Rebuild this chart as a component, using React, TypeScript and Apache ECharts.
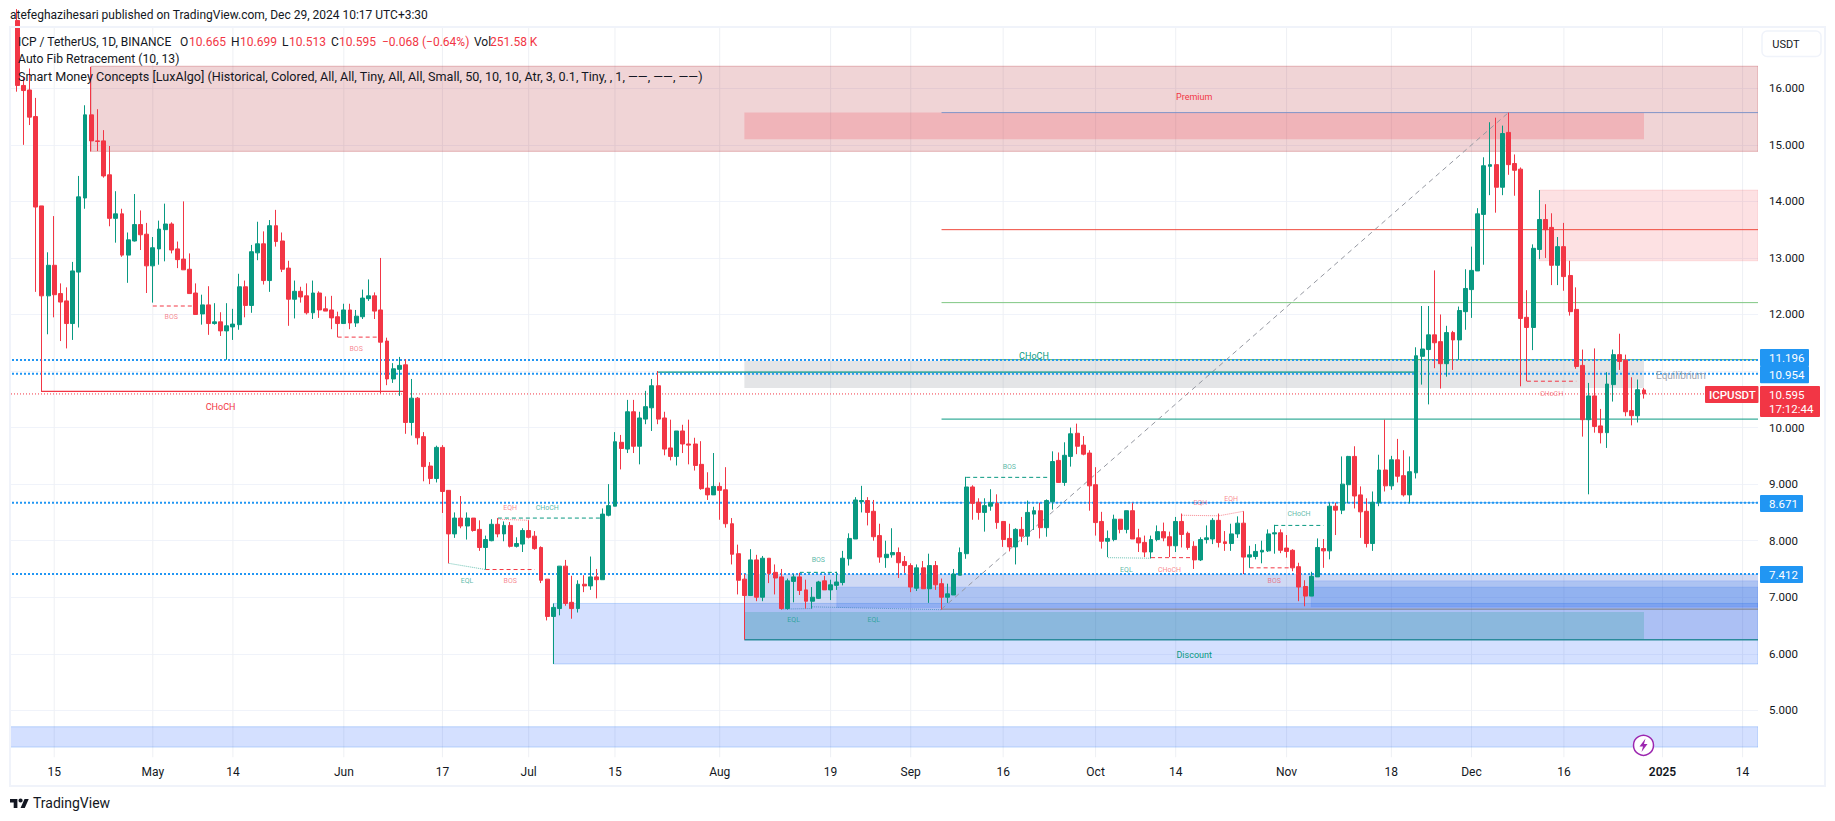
import React, { useEffect, useRef } from "react";
import * as echarts from "echarts";

const FONT = "Roboto, sans-serif";
const UP = "#089981";
const DOWN = "#f23645";

// rows: [open, close, low, high]
const april = [
  [17.2,16.05,15.94,17.4],[16.05,15.96,15.0,16.2],[15.97,15.49,15.35,16.35],[15.5,13.9,12.4,15.83],
  [13.92,12.33,10.63,13.92],[12.33,12.87,11.65,13.1],[12.87,12.35,11.95,13.74],[12.37,12.22,11.53,12.55],
  [12.24,11.84,11.4,12.48],[11.84,12.77,11.55,12.93],[12.75,14.08,11.77,14.45],[14.06,15.53,13.87,15.7],
  [15.53,15.07,14.88,16.38],[15.07,15.06,14.89,15.63],[15.07,14.45,14.42,15.26],[14.47,13.7,13.56,14.98],
  [13.7,13.78,13.27,14.18],[13.78,13.05,13.02,13.87],[13.05,13.32,12.56,13.45],[13.3,13.59,13.29,14.13],
  [13.59,13.41,13.14,13.84],[13.42,12.86,12.38,13.62],
];
const may = [
  [12.86,13.18,12.21,13.37],[13.16,13.51,12.88,13.66],[13.5,13.6,12.94,13.96],[13.6,13.14,13.08,13.63],
  [13.16,12.97,12.82,13.29],[12.98,12.79,12.79,14.0],[12.8,12.37,12.37,13.08],[12.38,12.0,12.0,12.55],
  [12.01,12.17,11.82,12.35],[12.17,11.84,11.64,12.5],[11.84,11.87,11.82,12.2],[11.87,11.71,11.62,12.04],
  [11.71,11.8,11.2,12.2],[11.78,11.83,11.55,12.1],[11.82,12.49,11.73,12.72],[12.49,12.16,11.95,12.6],
  [12.16,13.11,12.03,13.23],[13.09,13.25,12.96,13.64],[13.25,12.6,12.53,13.47],[12.6,13.57,12.4,13.67],
  [13.57,13.29,13.2,13.85],[13.3,12.8,12.75,13.45],[12.82,12.27,11.8,12.95],[12.27,12.41,11.93,12.6],
  [12.41,12.31,12.21,12.49],[12.33,12.03,12.0,12.55],[12.03,12.38,11.92,12.6],[12.38,12.08,11.94,12.41],
  [12.1,12.06,12.06,12.32],[12.08,11.94,11.74,12.33],[11.96,11.84,11.6,12.05],
];
const june = [
  [11.84,12.08,11.84,12.19],[12.08,11.85,11.74,12.19],[11.85,11.97,11.78,12.08],[11.96,12.29,11.92,12.44],
  [12.28,12.33,12.24,12.62],[12.33,12.06,11.92,12.39],[12.08,11.51,10.6,13.0],[11.53,10.86,10.75,11.59],
  [10.86,11.04,10.79,11.14],[11.03,11.1,10.56,11.25],[11.11,10.09,9.89,11.21],[10.09,10.52,9.86,10.86],
  [10.52,9.82,9.7,10.54],[9.84,9.31,9.05,9.92],[9.32,9.1,9.0,9.39],[9.1,9.65,9.03,9.68],
  [9.65,8.87,8.49,9.69],[8.89,8.12,7.6,8.89],[8.12,8.4,8.05,8.5],[8.4,8.26,8.22,8.79],
  [8.26,8.4,8.02,8.5],[8.4,8.18,8.16,8.4],[8.2,7.88,7.82,8.36],[7.88,8.02,7.49,8.09],
  [8.0,8.29,7.99,8.38],[8.29,8.12,8.06,8.4],[8.12,8.27,7.99,8.34],[8.27,7.9,7.88,8.33],
  [7.9,7.95,7.88,8.06],[7.94,8.18,7.8,8.22],
];
const july = [
  [8.18,8.06,8.04,8.36],[8.08,7.86,7.84,8.17],[7.88,7.3,7.25,7.9],[7.32,6.66,6.59,7.32],
  [6.66,6.82,5.82,6.89],[6.8,7.55,6.68,7.55],[7.55,6.89,6.85,7.66],[6.91,6.8,6.62,7.38],
  [6.8,7.23,6.73,7.3],[7.23,7.2,7.09,7.39],[7.2,7.36,7.13,7.72],[7.36,7.31,6.98,7.5],
  [7.31,8.47,7.31,8.57],[8.45,8.62,8.43,9.0],[8.61,9.75,8.61,9.92],[9.74,9.63,9.26,9.87],
  [9.62,10.28,9.55,10.49],[10.28,9.67,9.55,10.49],[9.67,10.17,9.35,10.28],[10.15,10.37,10.06,10.65],
  [10.35,10.74,9.94,10.86],[10.74,10.15,10.06,11.0],[10.17,9.62,9.51,10.28],[9.64,9.49,9.42,10.14],
  [9.49,9.94,9.33,9.94],[9.94,9.71,9.55,10.05],[9.71,9.69,9.35,10.14],[9.71,9.33,9.24,9.82],
  [9.35,8.92,8.9,9.76],[8.93,8.81,8.72,9.21],[8.81,8.96,8.81,9.55],
];
const august = [
  [8.96,8.89,8.37,9.03],[8.9,8.3,8.23,9.3],[8.3,7.76,7.58,8.4],[7.77,7.3,7.05,7.93],
  [7.32,7.03,6.25,7.41],[7.03,7.66,7.03,7.85],[7.66,7.0,6.93,7.75],[7.0,7.69,6.93,7.73],
  [7.69,7.42,7.25,7.69],[7.44,7.34,7.05,7.58],[7.36,6.8,6.78,7.5],[6.8,7.29,6.78,7.33],
  [7.28,7.36,6.91,7.41],[7.36,7.12,7.04,7.43],[7.13,6.93,6.8,7.31],[6.93,7.0,6.8,7.18],
  [6.98,7.27,6.97,7.29],[7.29,7.13,7.13,7.38],[7.13,7.22,6.95,7.31],[7.21,7.27,7.13,7.45],
  [7.26,7.69,7.21,7.82],[7.68,8.04,7.56,8.13],[8.03,8.72,8.03,8.77],[8.69,8.71,8.5,8.97],
  [8.71,8.5,8.27,8.77],[8.52,8.07,8.0,8.72],[8.09,7.71,7.61,8.3],[7.7,7.76,7.52,8.0],
  [7.75,7.79,7.7,8.22],[7.79,7.61,7.34,7.88],[7.63,7.56,7.43,7.73],
];
const september = [
  [7.56,7.18,7.09,7.6],[7.16,7.52,7.11,7.58],[7.52,7.15,7.15,7.64],[7.15,7.56,6.9,7.77],
  [7.56,7.22,7.13,7.64],[7.24,7.0,6.78,7.33],[7.0,7.06,6.9,7.24],[7.04,7.41,7.04,7.5],
  [7.39,7.79,7.39,7.88],[7.77,8.95,7.68,9.13],[8.95,8.66,8.37,8.98],[8.68,8.5,8.37,8.75],
  [8.5,8.62,8.16,8.75],[8.61,8.67,8.53,8.91],[8.66,8.32,8.21,8.82],[8.34,8.02,7.89,8.34],
  [8.04,7.89,7.81,8.3],[7.89,8.2,7.58,8.22],[8.2,8.08,7.98,8.42],[8.08,8.5,7.92,8.71],
  [8.47,8.53,8.19,8.6],[8.53,8.23,8.04,8.67],[8.23,8.71,8.07,8.73],[8.69,9.4,8.55,9.58],
  [9.42,9.03,9.03,9.56],[9.03,9.51,8.97,9.74],[9.49,9.89,9.31,10.0],[9.9,9.67,9.53,10.07],
  [9.69,9.53,9.51,9.85],[9.55,8.97,8.53,9.6],
];
const october = [
  [8.99,8.32,8.09,9.3],[8.34,7.99,7.86,8.51],[7.99,8.04,7.71,8.18],[8.02,8.38,7.99,8.46],
  [8.38,8.2,8.13,8.38],[8.2,8.53,8.13,8.53],[8.53,8.03,8.03,8.67],[8.05,7.96,7.8,8.21],
  [7.97,7.8,7.71,8.09],[7.8,8.02,7.69,8.09],[8.02,8.16,7.99,8.27],[8.16,8.05,7.99,8.32],
  [8.07,7.91,7.71,8.16],[7.91,8.34,7.8,8.42],[8.34,8.11,7.88,8.48],[8.13,7.88,7.84,8.16],
  [7.9,7.66,7.5,7.99],[7.66,8.02,7.64,8.06],[8.02,8.05,7.95,8.27],[8.03,8.36,7.94,8.4],
  [8.36,7.97,7.88,8.48],[7.98,7.95,7.82,8.17],[7.95,8.12,7.82,8.3],[8.12,8.31,8.05,8.43],
  [8.31,7.71,7.41,8.52],[7.71,7.75,7.52,7.91],[7.72,7.81,7.67,7.94],[7.8,7.83,7.6,8.0],
  [7.82,8.12,7.8,8.2],[8.12,8.14,7.77,8.28],[8.14,7.83,7.78,8.2],
];
const november = [
  [7.87,7.81,7.7,8.1],[7.83,7.52,7.46,7.85],[7.54,7.18,6.93,7.61],[7.19,7.02,6.84,7.3],
  [7.02,7.37,7.02,7.45],[7.36,7.88,7.36,8.04],[7.86,7.82,7.52,8.03],[7.82,8.61,7.67,8.67],
  [8.61,8.54,8.1,8.67],[8.54,9.0,8.47,9.49],[8.99,9.49,8.66,9.5],[9.49,8.79,8.57,9.67],
  [8.81,8.51,8.05,8.96],[8.52,7.95,7.88,8.75],[7.95,8.68,7.82,8.87],[8.67,9.25,8.61,9.52],
  [9.25,8.97,8.87,10.14],[8.97,9.43,8.9,9.5],[9.43,9.14,9.03,9.8],[9.15,8.81,8.78,9.6],
  [8.81,9.22,8.66,9.49],[9.2,11.27,9.1,11.42],[11.26,11.39,10.76,12.15],[11.38,11.64,10.41,12.15],
  [11.64,11.5,11.05,12.78],[11.52,11.13,10.69,12.0],[11.13,11.68,10.9,11.8],[11.68,11.55,11.02,11.71],
  [11.55,12.07,11.2,12.14],[12.05,12.46,11.73,12.8],
];
const december = [
  [12.44,12.78,11.94,13.2],[12.77,13.78,12.77,13.88],[13.77,14.63,12.88,14.78],[14.62,14.65,14.11,15.4],
  [14.65,14.25,13.8,15.48],[14.25,15.2,14.11,15.34],[15.22,14.65,14.47,15.57],[14.67,14.55,14.1,14.83],
  [14.57,11.93,10.73,14.6],[11.95,11.77,10.82,12.43],[11.77,13.17,11.37,13.24],[13.15,13.68,12.98,14.2],
  [13.68,13.5,13.0,13.95],[13.54,12.87,12.52,13.79],[12.87,13.2,12.52,13.37],[13.2,12.67,12.42,13.62],
  [12.69,12.05,11.98,12.95],[12.09,11.08,11.04,12.48],[11.1,10.14,9.84,11.38],[10.14,10.56,8.82,10.79],
  [10.56,10.02,9.91,11.4],[10.03,9.91,9.72,10.33],[9.91,10.77,9.64,10.98],[10.76,11.29,10.46,11.38],
  [11.29,11.17,11.02,11.66],[11.19,10.28,10.2,11.29],[10.3,10.21,10.04,10.89],[10.21,10.67,10.09,10.85],
  [10.665,10.595,10.513,10.699],
];

// 11.000 has a grid line, but its label sits under the price tags in the reference.
const priceGrid = [5, 6, 7, 8, 9, 10, 11, 12, 13, 14, 15, 16];
const priceLabels = [5, 6, 7, 8, 9, 10, 12, 13, 14, 15, 16];
const timeTicks: [string, string][] = [
  ["2024-04-15","15"],["2024-05-01","May"],["2024-05-14","14"],["2024-06-01","Jun"],["2024-06-17","17"],
  ["2024-07-01","Jul"],["2024-07-15","15"],["2024-08-01","Aug"],["2024-08-19","19"],["2024-09-01","Sep"],
  ["2024-09-16","16"],["2024-10-01","Oct"],["2024-10-14","14"],["2024-11-01","Nov"],["2024-11-18","18"],
  ["2024-12-01","Dec"],["2024-12-16","16"],["2025-01-01","2025"],["2025-01-14","14"],
];

const categories: string[] = [];
for (let i = 0; i < 284; i++) {
  categories.push(new Date(Date.UTC(2024, 3, 8 + i)).toISOString().slice(0, 10));
}
const ix = (d: string) => categories.indexOf(d);

// [from, to, top, bottom] — null means the edge of the plot
type Box = [string | null, string | null, number, number];
const premiumZone: Box[] = [["2024-04-21", null, 16.39, 14.885]];
const bearBlock: Box[] = [["2024-08-05", "2024-12-29", 15.57, 15.1]];
const supplyZone: Box[] = [["2024-12-12", null, 14.2, 12.95]];
const equilibriumZone: Box[] = [["2024-08-05", "2024-12-29", 11.18, 10.7]];
const discountZone: Box[] = [["2024-07-05", null, 6.89, 5.82]];
const lowerZone: Box[] = [[null, null, 4.71, 4.35]];
const wideBlock: Box[] = [["2024-08-05", null, 7.412, 6.25]];
const blueBlocks: Box[] = [
  ["2024-08-20", null, 7.18, 6.82],
  ["2024-11-05", null, 7.29, 6.83],
];
const bullBlock: Box[] = [["2024-08-05", "2024-12-29", 6.74, 6.25]];

// [from, price, to, price]
type Seg = [string | null, number, string | null, number];
const dottedBlue: Seg[] = [11.196, 10.954, 8.671, 7.412].map((p) => [null, p, null, p] as Seg);
const lastPrice: Seg[] = [[null, 10.595, null, 10.595]];
const fibBlueGrey: Seg[] = [["2024-09-06", 15.57, null, 15.57]];
const fibRed: Seg[] = [["2024-09-06", 13.5, null, 13.5]];
const fibLightGreen: Seg[] = [["2024-09-06", 12.21, null, 12.21]];
const fibGreen: Seg[] = [["2024-09-06", 11.2, null, 11.2]];
const fibTeal: Seg[] = [["2024-09-06", 10.15, null, 10.15]];
const fibBlue: Seg[] = [["2024-09-06", 8.671, null, 8.671]];
const fibGrey: Seg[] = [["2024-09-06", 6.79, null, 6.79]];
const fibBase: Seg[] = [["2024-08-05", 6.25, null, 6.25]];
const fibDiagonal: Seg[] = [["2024-09-06", 6.79, "2024-12-07", 15.57]];
const chochRed: Seg[] = [["2024-04-13", 10.64, "2024-06-11", 10.64]];
const chochTeal: Seg[] = [["2024-07-22", 10.98, "2024-11-22", 10.98]];
const dashedRed: Seg[] = [
  ["2024-05-01", 12.15, "2024-05-08", 12.15],
  ["2024-05-31", 11.6, "2024-06-07", 11.6],
  ["2024-06-24", 7.49, "2024-07-02", 7.49],
  ["2024-10-10", 7.7, "2024-10-17", 7.7],
  ["2024-10-26", 7.52, "2024-11-02", 7.52],
  ["2024-12-10", 10.82, "2024-12-18", 10.82],
];
const dashedTeal: Seg[] = [
  ["2024-06-26", 8.4, "2024-07-13", 8.4],
  ["2024-08-14", 7.44, "2024-08-20", 7.44],
  ["2024-09-10", 9.12, "2024-09-24", 9.12],
  ["2024-10-30", 8.27, "2024-11-07", 8.27],
];
const dottedRed: Seg[] = [
  ["2024-06-26", 8.38, "2024-07-01", 8.36],
  ["2024-10-15", 8.45, "2024-10-21", 8.44],
  ["2024-10-21", 8.44, "2024-10-25", 8.52],
];
const dottedTeal: Seg[] = [
  ["2024-06-18", 7.6, "2024-06-24", 7.49],
  ["2024-10-03", 7.7, "2024-10-10", 7.69],
];
const dottedSteel: Seg[] = [
  ["2024-08-11", 6.79, "2024-08-16", 6.8],
  ["2024-08-16", 6.83, "2024-09-06", 6.78],
];

// [date, price, text]
type Note = [string, number, string];
const bigRed: Note[] = [["2024-05-12", 10.37, "CHoCH"], ["2024-10-17", 15.85, "Premium"]];
const bigTeal: Note[] = [["2024-09-21", 11.26, "CHoCH"], ["2024-10-17", 5.98, "Discount"]];
const bigGrey: Note[] = [["2025-01-04", 10.92, "Equilibrium"]];
const tinyRed: Note[] = [
  ["2024-05-04", 11.96, "BOS"], ["2024-06-03", 11.39, "BOS"], ["2024-06-28", 7.29, "BOS"],
  ["2024-06-28", 8.57, "EQH"], ["2024-10-13", 7.49, "CHoCH"], ["2024-10-18", 8.66, "EQH"],
  ["2024-10-23", 8.74, "EQH"], ["2024-10-30", 7.29, "BOS"], ["2024-12-14", 10.6, "CHoCH"],
];
const tinyTeal: Note[] = [
  ["2024-06-21", 7.29, "EQL"], ["2024-07-04", 8.58, "CHoCH"], ["2024-08-17", 7.65, "BOS"],
  ["2024-08-13", 6.6, "EQL"], ["2024-08-26", 6.59, "EQL"], ["2024-09-17", 9.31, "BOS"],
  ["2024-10-06", 7.49, "EQL"], ["2024-11-03", 8.48, "CHoCH"],
];

const legendRows = {
  symbol: "ICP / TetherUS, 1D, BINANCE",
  fib: "Auto Fib Retracement (10, 13)",
  smc: "Smart Money Concepts [LuxAlgo] (Historical, Colored, All, All, Tiny, All, All, Small, 50, 10, 10, Atr, 3, 0.1, Tiny, , 1, ——, ——, ——)",
};

const edgeX = (d: string | null, api: any, params: any, side: "l" | "r") => {
  if (d === null) {
    const c = params.coordSys;
    return side === "l" ? c.x : c.x + c.width;
  }
  return api.coord([ix(d), 0])[0];
};

const boxSeries = (name: string, rows: Box[], style: any, z: number) => ({
  name,
  type: "custom",
  z,
  clip: true,
  silent: true,
  data: rows.map((r) => [ix(r[0] ?? categories[0]), r[2]]),
  renderItem: (params: any, api: any) => {
    const r = rows[params.dataIndex];
    const x1 = edgeX(r[0], api, params, "l");
    const x2 = edgeX(r[1], api, params, "r");
    const y1 = api.coord([0, r[2]])[1];
    const y2 = api.coord([0, r[3]])[1];
    return { type: "rect", shape: { x: x1, y: y1, width: x2 - x1, height: y2 - y1 }, style };
  },
});

const segSeries = (name: string, rows: Seg[], style: any, z: number) => ({
  name,
  type: "custom",
  z,
  clip: true,
  silent: true,
  data: rows.map((r) => [ix(r[0] ?? categories[0]), r[1]]),
  renderItem: (params: any, api: any) => {
    const r = rows[params.dataIndex];
    return {
      type: "line",
      shape: {
        x1: edgeX(r[0], api, params, "l"),
        y1: api.coord([0, r[1]])[1],
        x2: edgeX(r[2], api, params, "r"),
        y2: api.coord([0, r[3]])[1],
      },
      style: { fill: null, ...style },
    };
  },
});

const noteSeries = (name: string, rows: Note[], fill: string, size: number, z: number) => ({
  name,
  type: "custom",
  z,
  silent: true,
  clip: false,
  data: rows.map((r) => [ix(r[0]), r[1]]),
  renderItem: (params: any, api: any) => {
    const r = rows[params.dataIndex];
    const p = api.coord([ix(r[0]), r[1]]);
    return {
      type: "text",
      x: p[0],
      y: p[1],
      style: { text: r[2], fill, fontSize: size, fontFamily: FONT, align: "center", verticalAlign: "middle" },
    };
  },
});

const gridSeries = {
  name: "time grid",
  type: "custom",
  z: 1,
  silent: true,
  clip: true,
  data: timeTicks.map((t) => [ix(t[0]), 10]),
  renderItem: (params: any, api: any) => {
    const x = api.coord([ix(timeTicks[params.dataIndex][0]), 0])[0];
    const c = params.coordSys;
    return {
      type: "line",
      shape: { x1: x, y1: c.y, x2: x, y2: c.y + c.height },
      style: { stroke: "#eef0f4", lineWidth: 1 },
    };
  },
};

const txt = (text: string, x: number, y: number, fill: string, size = 12, extra: any = {}) => ({
  type: "text",
  x,
  y,
  z: 60,
  silent: true,
  style: { text, fill, fontSize: size, fontFamily: FONT, align: "left", verticalAlign: "middle", ...extra },
});
const tag = (x: number, y: number, w: number, h: number, fill: string) => ({
  type: "rect",
  z: 55,
  silent: true,
  shape: { x, y, width: w, height: h, r: 1 },
  style: { fill },
});

echarts.graphic.registerShape("tvlogo", echarts.graphic.extendPath("M14 22H7V11H0V4h14v18zM28 22h-8l7.5-18h8L28 22zM24 7a4 4 0 1 1-8 0a4 4 0 1 1 8 0z", {}) as any);

const buildGraphic = () => {
  const ink = "#131722";
  const red = "#f23645";
  return [
    { type: "rect", z: 50, silent: true, shape: { x: 0, y: 0, width: 9, height: 821 }, style: { fill: "#fff" } },
    { type: "rect", z: 51, silent: true, shape: { x: 10, y: 27, width: 1815, height: 759 }, style: { fill: "none", stroke: "#f0f3fa", lineWidth: 2 } },
    txt("atefeghazihesari published on TradingView.com, Dec 29, 2024 10:17 UTC+3:30", 10, 15, ink, 12),
    txt(legendRows.symbol, 18, 42, ink, 12),
    txt("O", 180, 42, ink), txt("10.665", 189, 42, red),
    txt("H", 231, 42, ink), txt("10.699", 240, 42, red),
    txt("L", 282, 42, ink), txt("10.513", 289, 42, red),
    txt("C", 331, 42, ink), txt("10.595", 339, 42, red),
    txt("−0.068 (−0.64%)", 382, 42, red),
    txt("Vol", 474, 42, ink), txt("251.58 K", 490, 42, red),
    txt(legendRows.fib, 18, 59, ink, 12.2),
    txt(legendRows.smc, 18, 76, ink, 12.6),
    tag(1760, 349, 49, 17.2, "#2196f3"), txt("11.196", 1769, 357.7, "#fff", 11.5),
    tag(1760, 366, 49, 17.2, "#2196f3"), txt("10.954", 1769, 374.7, "#fff", 11.5),
    tag(1760, 495, 43, 17, "#2196f3"), txt("8.671", 1769, 503.7, "#fff", 11.5),
    tag(1760, 566, 43, 17, "#2196f3"), txt("7.412", 1769, 574.7, "#fff", 11.5),
    tag(1705, 386, 53.5, 17, red), txt("ICPUSDT", 1709, 394.7, "#fff", 11.5, { fontWeight: 500 }),
    tag(1760, 386, 60, 31, red), txt("10.595", 1769, 394.7, "#fff", 11.5), txt("17:12:44", 1769, 408.7, "#fff", 11.5),
    { type: "rect", z: 55, silent: true, shape: { x: 1762, y: 31, width: 59, height: 25.5, r: 5 }, style: { fill: "#fff", stroke: "#f0f3fa", lineWidth: 1.5 } },
    txt("USDT", 1786, 44.4, ink, 11, { align: "center" }),
    { type: "circle", z: 55, silent: true, shape: { cx: 1643.5, cy: 745.3, r: 10 }, style: { fill: "#fff", stroke: "#9c27b0", lineWidth: 1.5 } },
    { type: "polygon", z: 56, silent: true, shape: { points: [[1645.5, 738.5], [1639.5, 746.5], [1643, 746.5], [1641.5, 752], [1647.5, 744], [1644, 744]] }, style: { fill: "#9c27b0" } },
    { type: "tvlogo", z: 56, silent: true, x: 10, y: 797, scaleX: 19 / 36, scaleY: 0.5, style: { fill: ink } },
    txt("TradingView", 33, 803, ink, 14),
  ];
};

const buildOption = () => {
  const allCandles = [["-", "-", "-", "-"], ...april, ...may, ...june, ...july, ...august, ...september, ...october, ...november, ...december];
  return {
    animation: false,
    backgroundColor: "#ffffff",
    textStyle: { fontFamily: FONT },
    grid: { left: 8, right: 77, top: 27.5, bottom: 63.5, containLabel: false },
    xAxis: {
      type: "category",
      data: categories,
      boundaryGap: true,
      axisLine: { show: false },
      axisTick: { show: false },
      splitLine: { show: false },
      axisLabel: {
        color: "#131722",
        fontSize: 12,
        margin: 8,
        fontFamily: FONT,
        interval: (i: number, v: string) => timeTicks.some((t) => t[0] === v),
        formatter: (v: string) => {
          const t = timeTicks.find((k) => k[0] === v);
          if (!t) return "";
          return t[1] === "2025" ? "{b|2025}" : t[1];
        },
        rich: { b: { fontWeight: 600, fontSize: 12, color: "#131722", fontFamily: FONT } },
        hideOverlap: false,
        showMinLabel: true,
        showMaxLabel: true,
      },
    },
    yAxis: {
      type: "value",
      position: "right",
      min: 4.166,
      max: 17.075,
      scale: true,
      axisLine: { show: false },
      axisTick: { show: false, customValues: priceGrid },
      axisLabel: {
        customValues: priceLabels,
        color: "#131722",
        fontSize: 11.5,
        margin: 11,
        fontFamily: FONT,
        formatter: (v: number) => v.toFixed(3),
      },
      splitLine: { show: true, lineStyle: { color: "#f0f3fa", width: 1 } },
    },
    series: [
      gridSeries,
      boxSeries("premium", premiumZone, { fill: "rgba(178,40,51,0.2)", stroke: "rgba(178,40,51,0.3)", lineWidth: 1 }, 2),
      boxSeries("bear block", bearBlock, { fill: "rgba(242,54,69,0.2)" }, 3),
      boxSeries("supply", supplyZone, { fill: "rgba(242,54,69,0.15)", stroke: "rgba(242,54,69,0.12)", lineWidth: 1 }, 2),
      boxSeries("equilibrium", equilibriumZone, { fill: "rgba(120,123,134,0.2)" }, 2),
      boxSeries("discount", discountZone, { fill: "rgba(41,98,255,0.2)", stroke: "rgba(33,120,243,0.25)", lineWidth: 1 }, 2),
      boxSeries("lower", lowerZone, { fill: "rgba(41,98,255,0.2)", stroke: "rgba(33,120,243,0.25)", lineWidth: 1 }, 2),
      boxSeries("wide block", wideBlock, { fill: "rgba(15,65,200,0.2)" }, 3),
      boxSeries("blue blocks", blueBlocks, { fill: "rgba(40,110,235,0.2)", stroke: "rgba(41,98,255,0.12)", lineWidth: 1 }, 3),
      boxSeries("bull block", bullBlock, { fill: "rgba(8,153,129,0.2)" }, 4),
      segSeries("fib top", fibBlueGrey, { stroke: "#8094c8", lineWidth: 1 }, 5),
      segSeries("fib red", fibRed, { stroke: "#f0493c", lineWidth: 1 }, 5),
      segSeries("fib lightgreen", fibLightGreen, { stroke: "#81c784", lineWidth: 1 }, 5),
      segSeries("fib green", fibGreen, { stroke: "#4caf50", lineWidth: 1 }, 5),
      segSeries("fib teal", fibTeal, { stroke: "#089981", lineWidth: 1 }, 5),
      segSeries("fib blue", fibBlue, { stroke: "#64b5f6", lineWidth: 1 }, 5),
      segSeries("fib grey", fibGrey, { stroke: "#787b86", lineWidth: 1 }, 5),
      segSeries("fib base", fibBase, { stroke: "#2a8a9a", lineWidth: 1.5 }, 5),
      segSeries("fib diagonal", fibDiagonal, { stroke: "#9598a1", lineWidth: 1, lineDash: [5, 4] }, 5),
      segSeries("choch red", chochRed, { stroke: DOWN, lineWidth: 1.2 }, 6),
      segSeries("choch teal", chochTeal, { stroke: UP, lineWidth: 1.2 }, 6),
      segSeries("dashed red", dashedRed, { stroke: DOWN, lineWidth: 1, lineDash: [4, 3] }, 6),
      segSeries("dashed teal", dashedTeal, { stroke: UP, lineWidth: 1, lineDash: [4, 3] }, 6),
      segSeries("dotted red", dottedRed, { stroke: "rgba(242,54,69,0.6)", lineWidth: 1, lineDash: [1, 1] }, 6),
      segSeries("dotted teal", dottedTeal, { stroke: "rgba(8,153,129,0.6)", lineWidth: 1, lineDash: [1, 1] }, 6),
      segSeries("dotted steel", dottedSteel, { stroke: "#5c96c8", lineWidth: 1, lineDash: [1, 1] }, 6),
      segSeries("levels", dottedBlue, { stroke: "#2196f3", lineWidth: 2, lineDash: [2, 2] }, 7),
      segSeries("last price", lastPrice, { stroke: DOWN, lineWidth: 1, lineDash: [1, 2] }, 7),
      {
        name: "ICPUSDT",
        type: "candlestick",
        z: 10,
        data: allCandles,
        barWidth: 4.4,
        itemStyle: { color: UP, color0: DOWN, borderColor: UP, borderColor0: DOWN, borderWidth: 1 },
      },
      noteSeries("notes red", bigRed, DOWN, 9, 12),
      noteSeries("notes teal", bigTeal, UP, 9, 12),
      noteSeries("notes grey", bigGrey, "#a3a6af", 10, 12),
      noteSeries("tiny red", tinyRed, "rgba(242,54,69,0.6)", 7, 12),
      noteSeries("tiny teal", tinyTeal, "rgba(8,153,129,0.7)", 7, 12),
    ],
    graphic: buildGraphic(),
  };
};

export default function App() {
  const ref = useRef<HTMLDivElement>(null);
  useEffect(() => {
    document.body.style.margin = "0";
    const chart = echarts.init(ref.current!, undefined, { renderer: "svg" });
    chart.setOption(buildOption() as any);
    return () => chart.dispose();
  }, []);
  return <div ref={ref} style={{ width: 1835, height: 821 }} />;
}
